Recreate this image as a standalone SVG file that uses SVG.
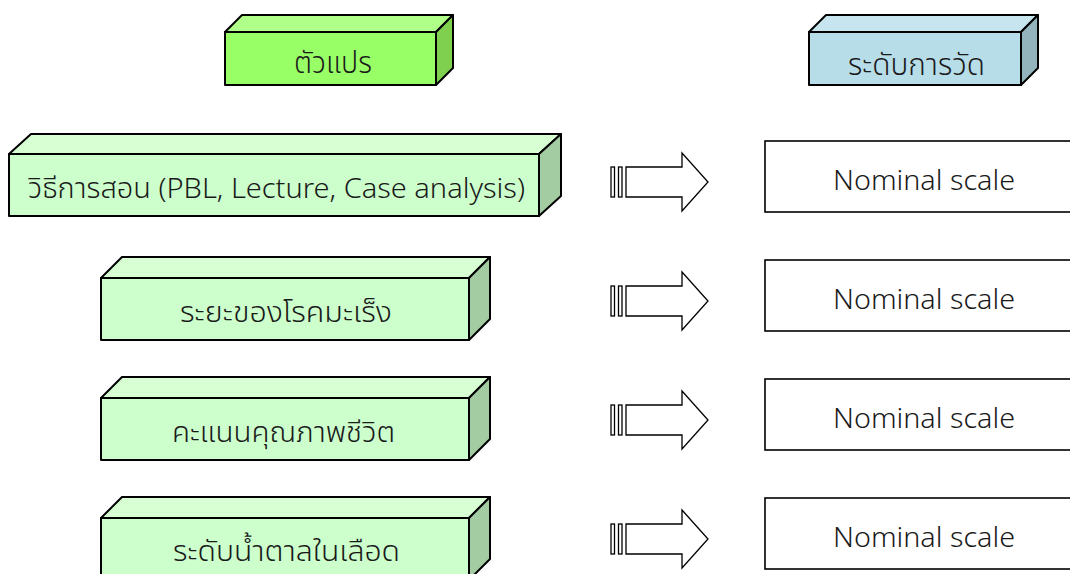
<svg xmlns="http://www.w3.org/2000/svg" width="1070" height="574" viewBox="0 0 1070 574">
<style>
.t{font-family:"Noto Sans Thai","Noto Sans","DejaVu Sans",sans-serif;fill:#1a1a1a;text-anchor:middle;font-weight:300}
.s{stroke:#000;stroke-width:2;stroke-linejoin:round}
.gf{fill:#ccffcc}.gt{fill:#d8ffd4}.gs{fill:#a3cca3}
.hf{fill:#99ff66}.ht{fill:#b0ff88}.hs{fill:#7fd04e}
.bf{fill:#b7dde8}.bt{fill:#c6e5ee}.bs{fill:#93b4bd}
.nb{fill:#fff;stroke:#000;stroke-width:1.6}
.ar{fill:#fff;stroke:#000;stroke-width:1.3;stroke-linejoin:miter}
</style>
<defs>
<g id="arrow">
<rect class="ar" x="611" y="-15" width="3.5" height="30"/>
<rect class="ar" x="618.5" y="-15" width="3.5" height="30"/>
<polygon class="ar" points="626,-15 682,-15 682,-29 708,0 682,29 682,15 626,15"/>
</g>
</defs>
<rect width="1070" height="574" fill="#fff"/>

<g id="hdr-var">
<polygon class="s ht" points="225,32 242,15 453,15 436,32"/>
<polygon class="s hs" points="436,32 453,15 453,68 436,85"/>
<rect class="s hf" x="225" y="32" width="211" height="53"/>
<text class="t" x="333" y="73" font-size="30" textLength="78" lengthAdjust="spacingAndGlyphs">ตัวแปร</text>
</g>

<g id="hdr-level">
<polygon class="s bt" points="809,32 826,15 1038,15 1021,32"/>
<polygon class="s bs" points="1021,32 1038,15 1038,68 1021,85"/>
<rect class="s bf" x="809" y="32" width="212" height="53"/>
<text class="t" x="916.5" y="75" font-size="30" textLength="137" lengthAdjust="spacingAndGlyphs">ระดับการวัด</text>
</g>

<g id="var1">
<polygon class="s gt" points="9,154 31,134 561,134 539,154"/>
<polygon class="s gs" points="539,154 561,134 561,196 539,216"/>
<rect class="s gf" x="9" y="154" width="530" height="62"/>
<text class="t" x="276.5" y="198" font-size="28" textLength="497" lengthAdjust="spacingAndGlyphs">วิธีการสอน (PBL, Lecture, Case analysis)</text>
</g>

<g id="var2">
<polygon class="s gt" points="101,278 122,257 490,257 469,278"/>
<polygon class="s gs" points="469,278 490,257 490,319 469,340"/>
<rect class="s gf" x="101" y="278" width="368" height="62"/>
<text class="t" x="286" y="322" font-size="29" textLength="212" lengthAdjust="spacingAndGlyphs">ระยะของโรคมะเร็ง</text>
</g>

<g id="var3">
<polygon class="s gt" points="101,398 122,377 490,377 469,398"/>
<polygon class="s gs" points="469,398 490,377 490,439 469,460"/>
<rect class="s gf" x="101" y="398" width="368" height="62"/>
<text class="t" x="283.5" y="442" font-size="29" textLength="223" lengthAdjust="spacingAndGlyphs">คะแนนคุณภาพชีวิต</text>
</g>

<g id="var4">
<polygon class="s gt" points="101,518 122,497 490,497 469,518"/>
<polygon class="s gs" points="469,518 490,497 490,559 469,580"/>
<rect class="s gf" x="101" y="518" width="368" height="62"/>
<text class="t" x="286.5" y="561" font-size="29" textLength="227" lengthAdjust="spacingAndGlyphs">ระดับน้ำตาลในเลือด</text>
</g>

<g id="scale1">
<rect class="nb" x="765" y="141" width="318" height="71"/>
<text class="t" x="924" y="190" font-size="28" textLength="182" lengthAdjust="spacingAndGlyphs">Nominal scale</text>
</g>
<g id="scale2">
<rect class="nb" x="765" y="260" width="318" height="71"/>
<text class="t" x="924" y="309" font-size="28" textLength="182" lengthAdjust="spacingAndGlyphs">Nominal scale</text>
</g>
<g id="scale3">
<rect class="nb" x="765" y="379" width="318" height="71"/>
<text class="t" x="924" y="428" font-size="28" textLength="182" lengthAdjust="spacingAndGlyphs">Nominal scale</text>
</g>
<g id="scale4">
<rect class="nb" x="765" y="498" width="318" height="71"/>
<text class="t" x="924" y="547" font-size="28" textLength="182" lengthAdjust="spacingAndGlyphs">Nominal scale</text>
</g>

<g id="connectors">
<use href="#arrow" transform="translate(0,182)"/>
<use href="#arrow" transform="translate(0,301)"/>
<use href="#arrow" transform="translate(0,420)"/>
<use href="#arrow" transform="translate(0,539)"/>
</g>
</svg>
